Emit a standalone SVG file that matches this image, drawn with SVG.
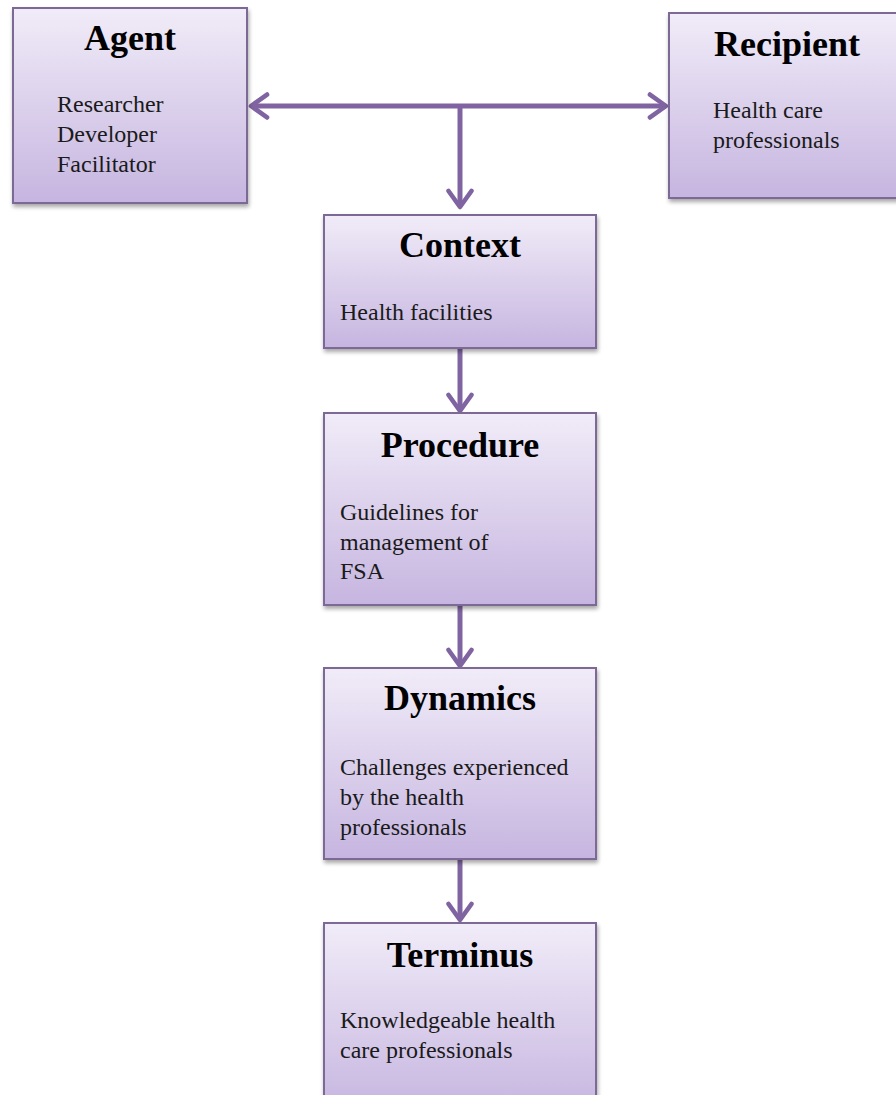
<svg xmlns="http://www.w3.org/2000/svg" width="896" height="1095" viewBox="0 0 896 1095">
<defs>
<linearGradient id="g" x1="0" y1="0" x2="0" y2="1">
<stop offset="0" stop-color="#f1ecf8"/>
<stop offset="1" stop-color="#c6b5e0"/>
</linearGradient>
<filter id="sh" x="-5%" y="-5%" width="115%" height="115%">
<feGaussianBlur in="SourceAlpha" stdDeviation="2"/>
<feOffset dx="1" dy="3" result="b"/>
<feComponentTransfer><feFuncA type="linear" slope="0.35"/></feComponentTransfer>
<feMerge><feMergeNode/><feMergeNode in="SourceGraphic"/></feMerge>
</filter>
<marker id="ah" viewBox="0 0 12 12" refX="10" refY="6" markerWidth="5.5" markerHeight="5.5" orient="auto" markerUnits="strokeWidth">
<path d="M3,1 L10,6 L3,11" fill="none" stroke="#8064a2" stroke-width="2" stroke-linecap="round" stroke-linejoin="round"/>
</marker>
</defs>
<style>
.box{fill:url(#g);stroke:#7b6995;stroke-width:2;filter:url(#sh)}
.t{font-family:"Liberation Serif","Times New Roman",serif;font-weight:bold;font-size:36px;fill:#000;text-anchor:middle}
.b{font-family:"Liberation Serif","Times New Roman",serif;font-size:24px;fill:#1a1a1a}
.c{stroke:#8064a2;stroke-width:5;fill:none;marker-end:url(#ah)}
</style>
<rect width="896" height="1095" fill="#fff"/>
<g id="connectors">
<line class="c" x1="460" y1="106" x2="251" y2="106"/>
<line class="c" x1="460" y1="106" x2="666" y2="106"/>
<line class="c" x1="460" y1="104" x2="460" y2="207"/>
<line class="c" x1="460" y1="349" x2="460" y2="411"/>
<line class="c" x1="460" y1="606" x2="460" y2="666"/>
<line class="c" x1="460" y1="859" x2="460" y2="920"/>
</g>
<g id="agent">
<rect class="box" x="13" y="8" width="234" height="195"/>
<text class="t" x="130" y="50">Agent</text>
<text class="b" x="57" y="112">Researcher</text>
<text class="b" x="57" y="142">Developer</text>
<text class="b" x="57" y="172">Facilitator</text>
</g>
<g id="recipient">
<rect class="box" x="669" y="13" width="240" height="185"/>
<text class="t" x="787" y="56">Recipient</text>
<text class="b" x="713" y="118">Health care</text>
<text class="b" x="713" y="148">professionals</text>
</g>
<g id="context">
<rect class="box" x="324" y="215" width="272" height="133"/>
<text class="t" x="460" y="257">Context</text>
<text class="b" x="340" y="320">Health facilities</text>
</g>
<g id="procedure">
<rect class="box" x="324" y="413" width="272" height="192"/>
<text class="t" x="460" y="457">Procedure</text>
<text class="b" x="340" y="520">Guidelines for</text>
<text class="b" x="340" y="550">management of</text>
<text class="b" x="340" y="579">FSA</text>
</g>
<g id="dynamics">
<rect class="box" x="324" y="668" width="272" height="191"/>
<text class="t" x="460" y="710">Dynamics</text>
<text class="b" x="340" y="775">Challenges experienced</text>
<text class="b" x="340" y="805">by the health</text>
<text class="b" x="340" y="835">professionals</text>
</g>
<g id="terminus">
<rect class="box" x="324" y="923" width="272" height="190"/>
<text class="t" x="460" y="967">Terminus</text>
<text class="b" x="340" y="1028">Knowledgeable health</text>
<text class="b" x="340" y="1058">care professionals</text>
</g>
</svg>
